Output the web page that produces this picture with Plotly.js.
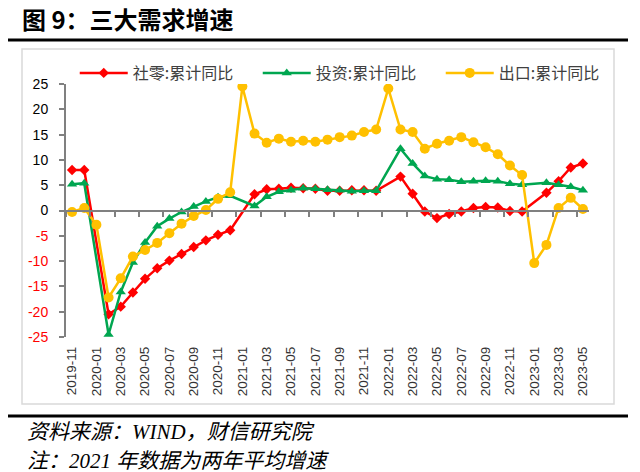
<!DOCTYPE html>
<html>
<head>
<meta charset="utf-8">
<script src="https://cdn.plot.ly/plotly-3.0.1.min.js"></script>
<style>html,body{margin:0;padding:0;background:#fff;}#chart{width:640px;height:472px;}</style>
</head>
<body>
<div id="chart"></div>
<script>
// ---- data ----
const months = ["2019-11","2019-12",
  "2020-01","2020-02","2020-03","2020-04","2020-05","2020-06","2020-07","2020-08","2020-09","2020-10","2020-11","2020-12",
  "2021-01","2021-02","2021-03","2021-04","2021-05","2021-06","2021-07","2021-08","2021-09","2021-10","2021-11","2021-12",
  "2022-01","2022-02","2022-03","2022-04","2022-05","2022-06","2022-07","2022-08","2022-09","2022-10","2022-11","2022-12",
  "2023-01","2023-02","2023-03","2023-04","2023-05"];
const retail = [8.0, 8.0,
  null, -20.5, -19.0, -16.2, -13.5, -11.4, -9.9, -8.6, -7.2, -5.9, -4.8, -3.9,
  null, 3.2, 4.2, 4.3, 4.5, 4.4, 4.3, 3.9, 3.9, 4.0, 4.0, 3.9,
  null, 6.7, 3.3, -0.2, -1.5, -0.7, -0.2, 0.5, 0.7, 0.6, -0.1, -0.2,
  null, 3.5, 5.8, 8.5, 9.3];
const invest = [5.2, 5.4,
  null, -24.5, -16.1, -10.3, -6.3, -3.1, -1.6, -0.3, 0.8, 1.8, 2.6, 2.9,
  null, 0.9, 2.7, 3.7, 4.0, 4.4, 4.3, 4.1, 4.0, 3.8, 3.9, 3.9,
  null, 12.2, 9.3, 6.8, 6.2, 6.1, 5.7, 5.8, 5.9, 5.8, 5.3, 5.1,
  null, 5.5, 5.1, 4.7, 4.0];
const exportv = [-0.3, 0.5,
  -2.8, -17.2, -13.4, -9.1, -7.8, -6.4, -4.5, -2.6, -1.1, 0.1, 2.3, 3.6,
  24.5, 15.2, 13.4, 14.2, 13.6, 13.8, 13.6, 14.0, 14.5, 14.8, 15.5, 16.0,
  24.1, 16.0, 15.5, 12.2, 13.2, 13.8, 14.5, 13.5, 12.5, 11.1, 8.9, 7.0,
  -10.4, -6.8, 0.5, 2.5, 0.3];
const seriesNames = ["社零:累计同比", "投资:累计同比", "出口:累计同比"];
const yTicks = [25, 20, 15, 10, 5, 0, -5, -10, -15, -20, -25];
const titleText = "图 9：三大需求增速";
const noteSource = "资料来源：WIND，财信研究院";
const noteMain = "注：2021 年数据为两年平均增速";

// ---- layout geometry ----
const W = 640, H = 472;
const M = {l: 66, r: 51, t: 84, b: 135};
const PW = W - M.l - M.r, PH = H - M.t - M.b;
const px = x => (x - M.l) / PW;
const py = y => (H - M.b - y) / PH;

const cjk = "'Noto Sans CJK SC', 'Noto Sans', sans-serif";
const lat = "'Liberation Sans', Arial, sans-serif";
const serifIt = "'Liberation Serif', 'Noto Sans CJK SC', serif";

const traces = [
  {x: months, y: retail, name: seriesNames[0], type: "scatter", mode: "lines+markers",
   connectgaps: true, line: {color: "#ff0000", width: 2.5},
   marker: {symbol: "diamond", size: 8, color: "#ff0000"}},
  {x: months, y: invest, name: seriesNames[1], type: "scatter", mode: "lines+markers",
   connectgaps: true, line: {color: "#00a650", width: 2.5},
   marker: {symbol: "triangle-up", size: 9, color: "#00a650"}},
  {x: months, y: exportv, name: seriesNames[2], type: "scatter", mode: "lines+markers",
   connectgaps: true, line: {color: "#ffc000", width: 2.5},
   marker: {symbol: "circle", size: 10, color: "#ffc000"}},
  {x: [], y: [], xaxis: "x2", yaxis: "y", showlegend: false, hoverinfo: "skip", type: "scatter", mode: "lines"}
];

const layout = {
  width: W, height: H,
  margin: M,
  paper_bgcolor: "#ffffff", plot_bgcolor: "#ffffff",
  showlegend: true,
  title: {text: titleText, font: {family: cjk, size: 24, weight: 700, color: "#000"},
          x: 22 / W, xref: "container", xanchor: "left", y: 1 - 21 / H, yref: "container", yanchor: "middle"},
  xaxis: {type: "category", categoryorder: "array", categoryarray: months,
          range: [-0.5, months.length - 0.5],
          tickmode: "array", tickvals: months.filter((m, i) => i % 2 === 0),
          tickangle: -90, ticks: "", showline: false, showgrid: false, zeroline: false,
          tickfont: {family: lat, size: 13.5, color: "#333"}, ticklabelstandoff: 6},
  xaxis2: {type: "linear", overlaying: "x", anchor: "free", position: 0.5, side: "bottom",
           range: [-0.5, months.length - 0.5], tickmode: "linear", tick0: -0.5, dtick: 2,
           ticks: "outside", ticklen: 5, tickwidth: 2, tickcolor: "#808080",
           showticklabels: false, showline: true, linecolor: "#808080", linewidth: 2,
           showgrid: false, zeroline: false},
  yaxis: {range: [-25, 25], tickmode: "array", tickvals: yTicks,
          ticktext: yTicks.map(v => v < 0 ? '<span style="color:#ff0000">' + v + '</span>' : String(v)),
          ticks: "outside", ticklen: 5, tickwidth: 2, tickcolor: "#808080",
          showline: true, linecolor: "#808080", linewidth: 2,
          showgrid: false, zeroline: false, ticklabelstandoff: 8,
          tickfont: {family: lat, size: 14, color: "#000"}},
  legend: {orientation: "h", x: -0.0005, xanchor: "left", y: py(73), yanchor: "middle",
           font: {family: cjk, size: 16, color: "#404040"}, bgcolor: "rgba(0,0,0,0)",
           itemwidth: 48, traceorder: "normal", entrywidth: 111, entrywidthmode: "pixels",
           indentation: 9},
  shapes: [
    {type: "line", xref: "paper", yref: "paper", x0: px(8), x1: px(628), y0: py(40), y1: py(40),
     line: {color: "#000", width: 3}},
    {type: "rect", xref: "paper", yref: "paper", x0: px(22), x1: px(614), y0: py(404), y1: py(49),
     line: {color: "#d9d9d9", width: 1.5}},
    {type: "line", xref: "paper", yref: "paper", x0: px(8), x1: px(628), y0: py(416), y1: py(416),
     line: {color: "#000", width: 3}}
  ],
  annotations: [
    {text: noteSource, xref: "paper", yref: "paper", x: px(25), y: py(432), xanchor: "left", yanchor: "middle",
     showarrow: false, font: {family: serifIt, size: 21, style: "italic", color: "#000"}},
    {text: noteMain, xref: "paper", yref: "paper", x: px(25), y: py(461), xanchor: "left", yanchor: "middle",
     showarrow: false, font: {family: serifIt, size: 21, style: "italic", color: "#000"}}
  ]
};

Plotly.newPlot("chart", traces, layout, {staticPlot: true, displayModeBar: false});
</script>
</body>
</html>
